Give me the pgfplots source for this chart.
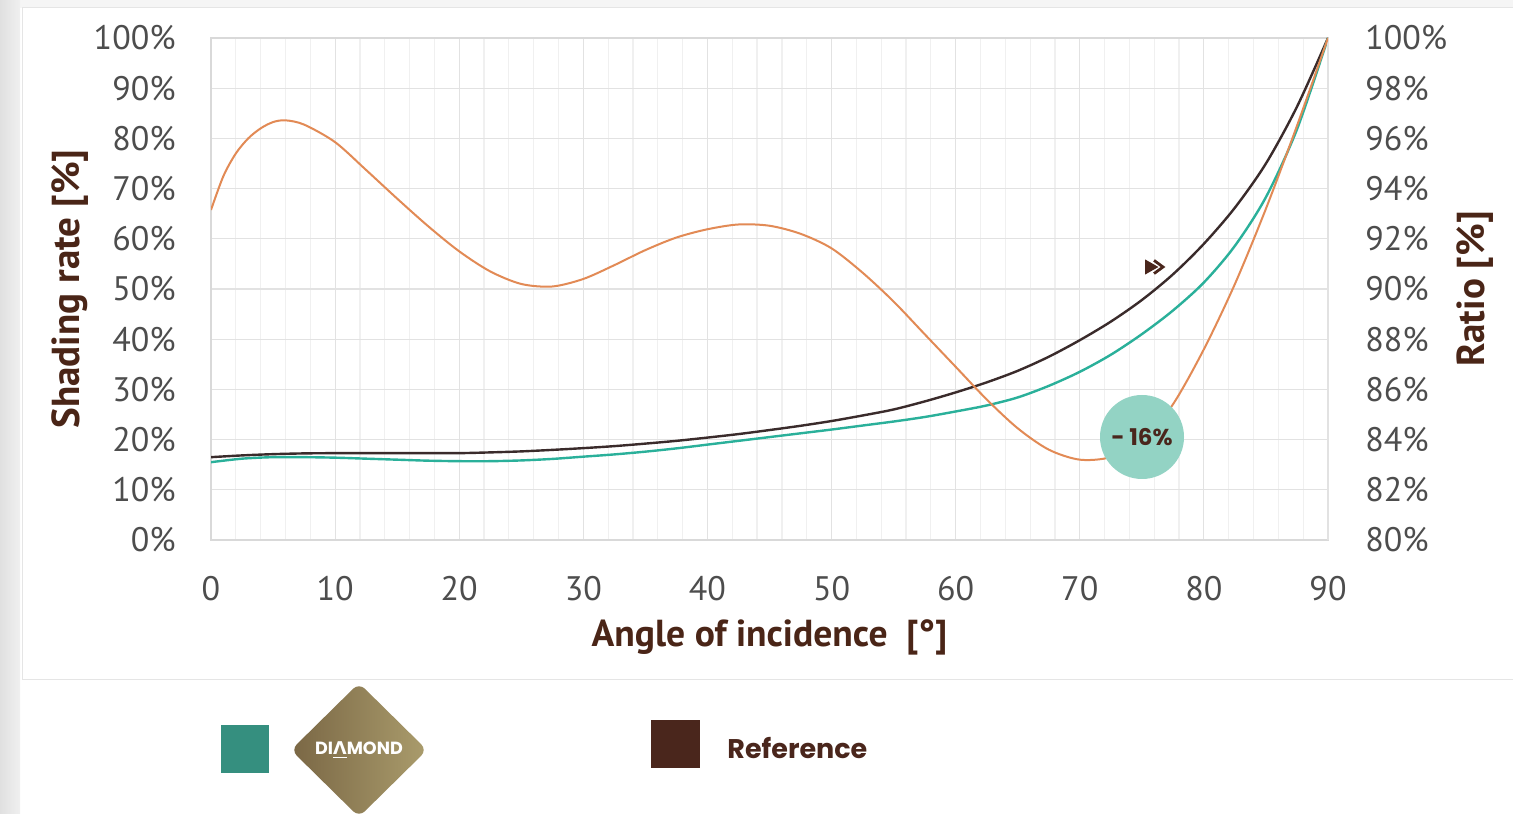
\documentclass[border=0pt]{standalone}
\usepackage{fontspec}
\setmainfont{PT Sans}
\newfontfamily\brandfont{Poppins}
\newfontfamily\symfont{DejaVu Sans}
\usepackage{pgfplots}
\pgfplotsset{compat=1.18}

\definecolor{diamondteal}{HTML}{2AB09A}
\definecolor{refline}{HTML}{3A2B2B}
\definecolor{ratioorange}{HTML}{E28A55}
\definecolor{legteal}{HTML}{358F7F}
\definecolor{legbrown}{HTML}{4A261C}
\definecolor{bubble}{HTML}{93D3C4}
\definecolor{ticklab}{HTML}{4D4D4D}
\definecolor{labbrown}{HTML}{4A2517}
\definecolor{gridmaj}{HTML}{E2E2E2}
\definecolor{gridmin}{HTML}{F0F0F0}
\definecolor{goldA}{HTML}{7A6745}
\definecolor{goldB}{HTML}{AA9C6C}

\begin{document}
\begin{tikzpicture}
\path[use as bounding box] (0,0) rectangle (756.5pt,406.5pt);
% page background and panel
\fill[white] (0,0) rectangle (756.5pt,406.5pt);
\fill[black!4] (0,402.5pt) rectangle (756.5pt,406.5pt);
\shade[left color=black!12, right color=black!6] (0,0) rectangle (10pt,406.5pt);
\draw[black!10, line width=0.5pt, fill=white] (11pt,66.5pt) rectangle (757pt,402.5pt);

% shading rate (left scale)
\begin{axis}[
  at={(105.5pt,136.5pt)}, anchor=south west,
  width=558.5pt, height=251pt, scale only axis,
  xmin=0, xmax=90, ymin=0, ymax=100,
  xtick={0,10,...,90}, ytick={0,10,...,100},
  minor x tick num=4,
  grid=both,
  major grid style={draw=gridmaj, line width=0.6pt},
  minor grid style={draw=gridmin, line width=0.6pt},
  axis line style={draw=black!15, line width=0.7pt},
  major tick length=0pt, minor tick length=0pt,
  tick label style={font=\fontsize{17}{20}\selectfont, text=ticklab, inner sep=0pt},
  /pgf/number format/assume math mode=true,
  yticklabel={\pgfmathprintnumber{\tick}\%},
  yticklabel style={anchor=east, xshift=-17.5pt},
  xticklabel style={anchor=north, yshift=-18pt},
  xlabel={Angle of incidence\hspace{0.5em}[°]},
  xlabel style={at={(axis description cs:0.5,-0.195)}, anchor=center,
    font=\bfseries\fontsize{18.8}{20}\selectfont, text=labbrown},
  ylabel={Shading rate [\%]},
  ylabel style={at={(axis description cs:-0.1262,0.5)}, anchor=center,
    font=\bfseries\fontsize{19.5}{20}\selectfont, text=labbrown},
]
% Reference
\addplot[refline, line width=1.2pt, smooth, tension=0.5] coordinates {
 (0,16.5) (2.5,16.85) (5,17.1) (7.5,17.25) (10,17.3) (12.5,17.3) (15,17.3)
 (17.5,17.3) (20,17.3) (22.5,17.45) (25,17.65) (27.5,17.95) (30,18.3)
 (32.5,18.7) (35,19.2) (37.5,19.75) (40,20.4) (42.5,21.1) (45,21.9)
 (47.5,22.75) (50,23.7) (52.5,24.8) (55,26.0) (57.5,27.6) (60,29.4)
 (62.5,31.4) (65,33.7) (67.5,36.5) (70,39.8) (72.5,43.5) (75,47.8)
 (77.5,52.9) (80,59.0) (82.5,66.2) (85,75.0) (87.5,86.3) (90,100)
};
% Diamond
\addplot[diamondteal, line width=1.2pt, smooth, tension=0.5] coordinates {
 (0,15.5) (2.5,16.2) (5,16.5) (7.5,16.5) (10,16.4) (12.5,16.2) (15,16.0)
 (17.5,15.8) (20,15.7) (22.5,15.7) (25,15.85) (27.5,16.15) (30,16.6)
 (32.5,17.05) (35,17.6) (37.5,18.25) (40,19.0) (42.5,19.75) (45,20.5)
 (47.5,21.25) (50,22.0) (52.5,22.8) (55,23.6) (57.5,24.5) (60,25.6)
 (62.5,26.8) (65,28.4) (67.5,30.7) (70,33.5) (72.5,36.9) (75,41.0)
 (77.5,45.7) (80,51.3) (82.5,58.6) (85,68.3) (87.5,81.8) (90,100)
};
\end{axis}

% ratio (right scale)
\begin{axis}[
  at={(105.5pt,136.5pt)}, anchor=south west,
  width=558.5pt, height=251pt, scale only axis,
  xmin=0, xmax=90, ymin=80, ymax=100,
  axis x line=none, axis y line*=right,
  ytick={80,82,...,100},
  axis line style={draw=gridmaj, line width=0.6pt},
  major tick length=0pt,
  tick label style={font=\fontsize{17}{20}\selectfont, text=ticklab, inner sep=0pt},
  /pgf/number format/assume math mode=true,
  yticklabel={\pgfmathprintnumber{\tick}\%},
  yticklabel style={anchor=west, xshift=18.5pt},
  ylabel={Ratio [\%]},
  ylabel style={at={(axis description cs:1.1316,0.5)}, anchor=center, rotate=0,
    font=\bfseries\fontsize{19.5}{20}\selectfont, text=labbrown},
]
\addplot[ratioorange, line width=1pt, smooth, tension=0.5] coordinates {
 (0,93.15) (1,94.5) (2,95.4) (3,96.0) (4,96.4) (5,96.65) (6,96.72)
 (7.5,96.55) (10,95.85) (12.5,94.74) (15,93.6) (17.5,92.5) (20,91.5)
 (22.5,90.7) (25,90.2) (27.5,90.1) (30,90.4) (32.5,90.95) (35,91.55)
 (37.5,92.05) (40,92.38) (42.5,92.57) (45,92.52) (47.5,92.2) (50,91.62)
 (52.5,90.65) (55,89.5) (57.5,88.2) (60,86.9) (62.5,85.6) (65,84.45)
 (67.5,83.6) (70,83.2) (72.5,83.3) (75,83.9) (77.5,85.4) (80,87.6)
 (82.5,90.2) (85,93.2) (87.5,96.5) (90,100)
};
\end{axis}

% highlight bubble and arrow
\node[circle, fill=bubble, minimum size=42pt, inner sep=0pt, text=legbrown,
  font=\brandfont\bfseries\fontsize{11.5}{13}\selectfont] at (571pt,188pt) {-\hspace{0.2em}16\%};
\fill[legbrown] (572.5pt,276.8pt) -- (579.2pt,273pt) -- (572.5pt,269.2pt) -- cycle;
\draw[legbrown, line width=1.4pt, line join=miter] (577pt,276.3pt) -- (581.5pt,273pt) -- (577pt,269.7pt);

% legend
\fill[legteal] (110.5pt,20pt) rectangle (134.5pt,44pt);
\shade[left color=goldA, right color=goldB, rounded corners=4pt]
  (145.5pt,31.5pt) -- (179.5pt,65pt) -- (213.5pt,31.5pt) -- (179.5pt,-2pt) -- cycle;
\node[text=white, font=\brandfont\bfseries\fontsize{8.8}{10}\selectfont] at (179.5pt,31.5pt)
  {DI\underline{{\symfont\bfseries Λ}}MOND};
\fill[legbrown] (325.5pt,22.5pt) rectangle (350pt,46.5pt);
\node[anchor=west, inner sep=0pt, text=legbrown, font=\brandfont\bfseries\fontsize{13.5}{15}\selectfont]
  at (363.5pt,32.5pt) {Reference};
\end{tikzpicture}
\end{document}
